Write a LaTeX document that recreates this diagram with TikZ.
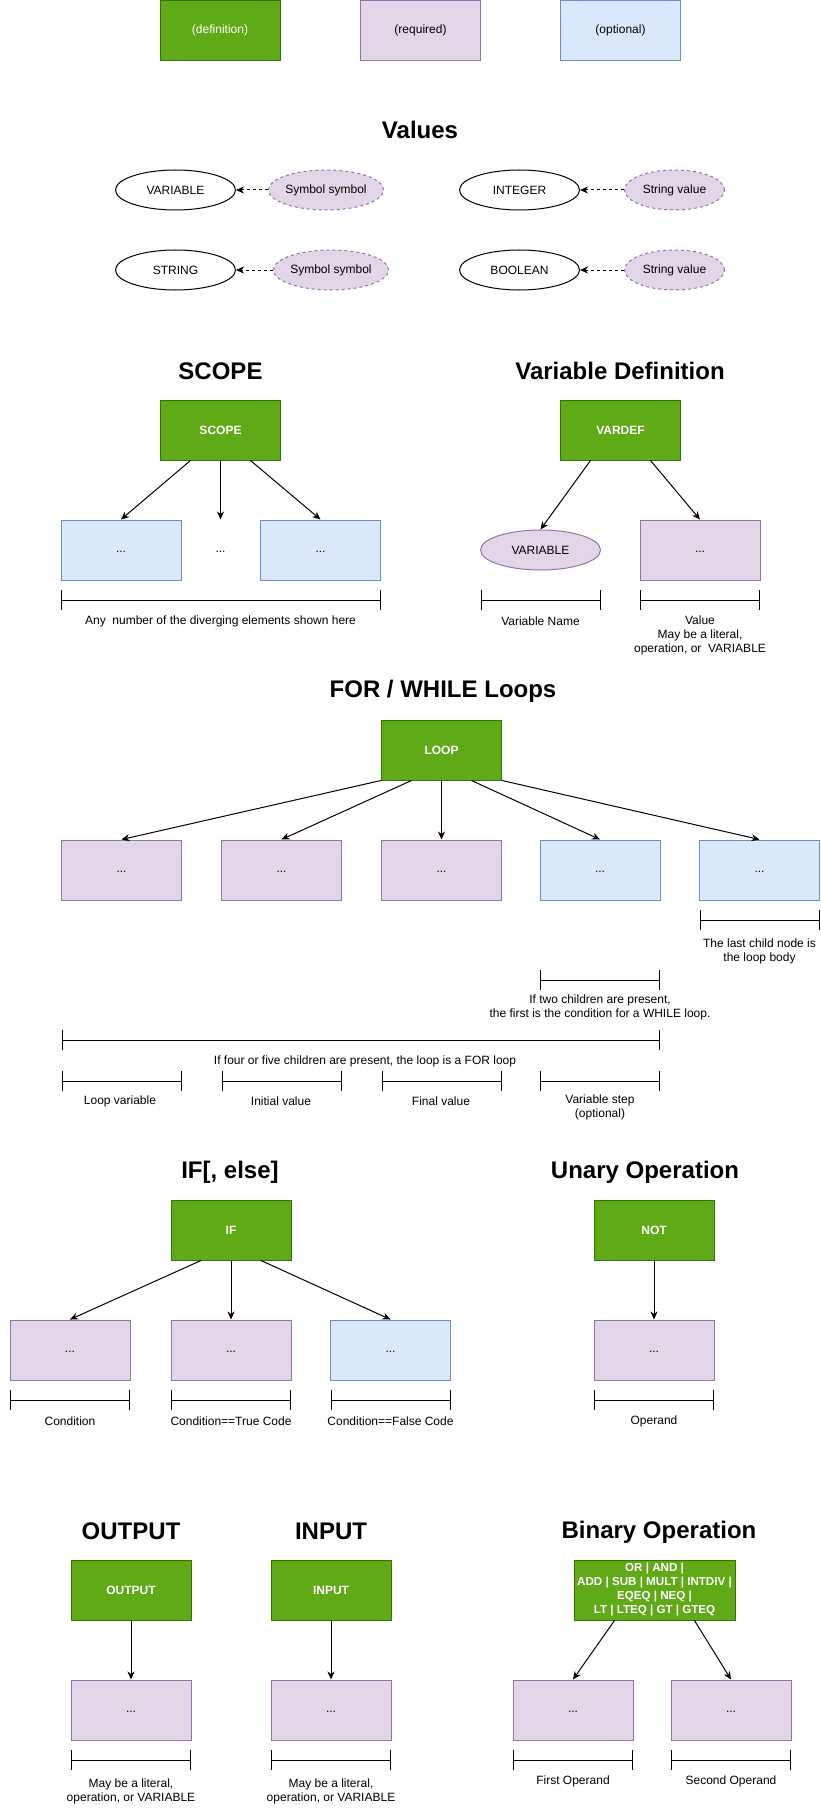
\documentclass[tikz,border=0pt]{standalone}
\usepackage{fontspec}
\setmainfont{Liberation Sans}
\usetikzlibrary{arrows.meta,shapes.geometric}
\definecolor{deffill}{HTML}{60A917}
\definecolor{defline}{HTML}{2D7600}
\definecolor{reqfill}{HTML}{E1D5E7}
\definecolor{reqline}{HTML}{9673A6}
\definecolor{optfill}{HTML}{DAE8FC}
\definecolor{optline}{HTML}{6C8EBF}
\newcommand{\spanbar}[3]{\draw[brk] (#1,#3) -- (#2,#3);}
\newcommand{\ddd}{\vphantom{Ay}...}
\begin{document}
\begin{tikzpicture}[x=1pt,y=-1pt, line width=1pt,
 every node/.style={font=\fontsize{12}{14}\selectfont, inner sep=0pt, align=center},
 defbox/.style={draw=defline, fill=deffill, minimum width=120pt, minimum height=60pt, text=white, font=\fontsize{12}{14}\selectfont\bfseries},
 reqbox/.style={draw=reqline, fill=reqfill, minimum width=120pt, minimum height=60pt},
 optbox/.style={draw=optline, fill=optfill, minimum width=120pt, minimum height=60pt},
 valoval/.style={draw=black, ellipse, minimum width=120pt, minimum height=40pt},
 symoval/.style={draw=reqline, fill=reqfill, ellipse, dash pattern=on 3pt off 3pt, minimum width=100pt, minimum height=40pt},
 titletext/.style={font=\fontsize{24}{28}\selectfont\bfseries},
 arr/.style={-{Stealth[length=8pt,width=7pt,inset=2.5pt]}},
 darr/.style={arr, dash pattern=on 3pt off 3pt},
 brk/.style={{Bar[width=20pt]}-{Bar[width=20pt]}},
]
\useasboundingbox (0,0) rectangle (821,1811);
% Legend
\node[defbox, font=\fontsize{12}{14}\selectfont] (legdef) at (220,30.5) {(definition)};
\node[reqbox] (legreq) at (420.5,30.5) {(required)};
\node[optbox] (legopt) at (620.5,30.5) {(optional)};

% Values
\node[titletext] (tvalues) at (420,130) {Values};
\node[valoval] (evar) at (175.5,190) {VARIABLE};
\node[symoval] (esym1) at (326,190) {Symbol symbol};
\node[valoval] (eint) at (519.5,190) {INTEGER};
\node[symoval] (estr1) at (674.5,190) {String value};
\node[valoval] (estring) at (175.5,270) {STRING};
\node[symoval] (esym2) at (331,270) {Symbol symbol};
\node[valoval] (ebool) at (519.5,270) {BOOLEAN};
\node[symoval] (estr2) at (674.5,270) {String value};
\draw[darr] (esym1) -- (evar);
\draw[darr] (estr1) -- (eint);
\draw[darr] (esym2) -- (estring);
\draw[darr] (estr2) -- (ebool);

% SCOPE
\node[titletext] (tscope) at (220.5,371) {SCOPE};
\node[defbox] (scope) at (220.5,430) {SCOPE};
\node[optbox] (sc1) at (121,550) {\ddd};
\node[minimum width=120pt, minimum height=60pt] (scmid) at (220.5,550) {\ddd};
\node[optbox] (sc2) at (320.5,550) {\ddd};
\draw[arr] ([xshift=-30pt]scope.south) -- (sc1.north);
\draw[arr] (scope.south) -- (scmid.north);
\draw[arr] ([xshift=30pt]scope.south) -- (sc2.north);
\spanbar{61}{380.5}{600}
\node (lscope) at (220.5,621) {Any\ \ number of the diverging elements shown here};

% Variable Definition
\node[titletext] (tvardef) at (620,371) {Variable Definition};
\node[defbox] (vardef) at (620.5,430) {VARDEF};
\node[valoval, draw=reqline, fill=reqfill] (vdvar) at (540.5,550) {VARIABLE};
\node[reqbox] (vdval) at (700,550) {\ddd};
\draw[arr] ([xshift=-30pt]vardef.south) -- (vdvar.north);
\draw[arr] ([xshift=30pt]vardef.south) -- (vdval.north);
\spanbar{480.5}{600.5}{600}
\spanbar{640}{760}{600}
\node (lvdname) at (540.5,621) {Variable Name};
\node[anchor=north] (lvdval) at (700,615.5) {Value\\May be a literal,\\operation, or\ \ VARIABLE};

% Loops
\node[titletext] (tloop) at (443,691) {FOR / WHILE Loops};
\node[defbox] (loop) at (441.5,750) {LOOP};
\node[reqbox] (lp1) at (121.5,870) {\ddd};
\node[reqbox] (lp2) at (281.5,870) {\ddd};
\node[reqbox] (lp3) at (441.5,870) {\ddd};
\node[optbox] (lp4) at (600,870) {\ddd};
\node[optbox] (lp5) at (759.5,870) {\ddd};
\draw[arr] (loop.south west) -- (lp1.north);
\draw[arr] ([xshift=-30pt]loop.south) -- (lp2.north);
\draw[arr] (loop.south) -- (lp3.north);
\draw[arr] ([xshift=30pt]loop.south) -- (lp4.north);
\draw[arr] (loop.south east) -- (lp5.north);
\spanbar{699.5}{819.5}{920}
\node[anchor=north] (llast) at (759.5,938.5) {The last child node is\\the loop body};
\spanbar{540}{660}{980}
\node[anchor=north] (lwhile) at (600,994.5) {If two children are present,\\the first is the condition for a WHILE loop.};
\spanbar{61.5}{660}{1040}
\node (lfor) at (365,1061) {If four or five children are present, the loop is a FOR loop};
\spanbar{61.5}{181.5}{1081}
\spanbar{221.5}{341.5}{1081}
\spanbar{381.5}{501.5}{1081}
\spanbar{540}{660}{1081}
\node (llv) at (120,1101) {Loop variable};
\node (liv) at (281,1101) {Initial value};
\node (lfv) at (441,1101) {Final value};
\node[anchor=north] (lvs) at (600,1094.5) {Variable step\\(optional)};

% IF
\node[titletext] (tif) at (230,1172) {IF[, else]};
\node[defbox] (ifn) at (231,1230) {IF};
\node[reqbox] (if1) at (70,1350) {\ddd};
\node[reqbox] (if2) at (231,1350) {\ddd};
\node[optbox] (if3) at (390.5,1350) {\ddd};
\draw[arr] ([xshift=-30pt]ifn.south) -- (if1.north);
\draw[arr] (ifn.south) -- (if2.north);
\draw[arr] ([xshift=30pt]ifn.south) -- (if3.north);
\spanbar{10}{130}{1400}
\spanbar{171}{291}{1400}
\spanbar{330.5}{450.5}{1400}
\node (lcond) at (70,1421) {Condition};
\node (ltrue) at (231,1421) {Condition==True Code};
\node (lfalse) at (390.5,1421) {Condition==False Code};

% Unary
\node[titletext] (tunary) at (645,1172) {Unary Operation};
\node[defbox] (notn) at (654,1230) {NOT};
\node[reqbox] (not1) at (654,1350) {\ddd};
\draw[arr] (notn.south) -- (not1.north);
\spanbar{594}{714}{1400}
\node (loperand) at (654,1421) {Operand};

% OUTPUT
\node[titletext] (tout) at (131,1531) {OUTPUT};
\node[defbox] (outn) at (131,1590) {OUTPUT};
\node[reqbox] (out1) at (131,1710) {\ddd};
\draw[arr] (outn.south) -- (out1.north);
\spanbar{71}{191}{1760}
\node[anchor=north] (lout) at (131,1778.5) {May be a literal,\\operation, or VARIABLE};

% INPUT
\node[titletext] (tin) at (331,1531) {INPUT};
\node[defbox] (inn) at (331,1590) {INPUT};
\node[reqbox] (in1) at (331,1710) {\ddd};
\draw[arr] (inn.south) -- (in1.north);
\spanbar{271}{391}{1760}
\node[anchor=north] (lin) at (331,1778.5) {May be a literal,\\operation, or VARIABLE};

% Binary
\node[titletext] (tbin) at (659,1532) {Binary Operation};
\node[defbox, minimum width=161pt, font=\fontsize{11.6}{14}\selectfont\bfseries] (binn) at (654.5,1590) {OR | AND |\\ADD | SUB | MULT | INTDIV |\\EQEQ | NEQ |\\LT | LTEQ | GT | GTEQ};
\node[reqbox] (bin1) at (573,1710) {\ddd};
\node[reqbox] (bin2) at (731,1710) {\ddd};
\draw[arr] ([xshift=-40pt]binn.south) -- (bin1.north);
\draw[arr] ([xshift=40pt]binn.south) -- (bin2.north);
\spanbar{513}{633}{1760}
\spanbar{671}{791}{1760}
\node (lfirst) at (573,1781) {First Operand};
\node (lsecond) at (731,1781) {Second Operand};
\end{tikzpicture}
\end{document}
